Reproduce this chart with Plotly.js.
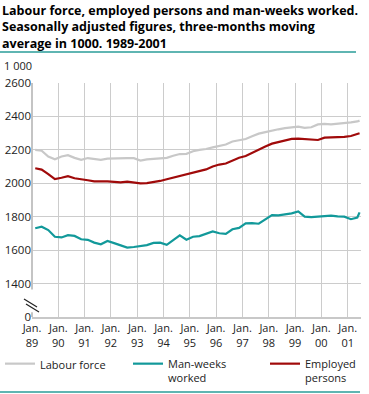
<!DOCTYPE html>
<html>
<head>
<meta charset="utf-8">
<script src="https://cdn.plot.ly/plotly-3.0.1.min.js"></script>
<style>html,body{margin:0;padding:0;background:#fff;}#chart{width:369px;height:394px;}</style>
</head>
<body>
<div id="chart"></div>
<script>
// Dates (mid-month, roughly quarterly)
var dates = [
 '1989-02-15','1989-05-15','1989-08-15','1989-11-15',
 '1990-02-15','1990-05-15','1990-08-15','1990-11-15',
 '1991-02-15','1991-05-15','1991-08-15','1991-11-15',
 '1992-02-15','1992-05-15','1992-08-15','1992-11-15',
 '1993-02-15','1993-05-15','1993-08-15','1993-11-15',
 '1994-02-15','1994-05-15','1994-08-15','1994-11-15',
 '1995-02-15','1995-05-15','1995-08-15','1995-11-15',
 '1996-02-15','1996-05-15','1996-08-15','1996-11-15',
 '1997-02-15','1997-05-15','1997-08-15','1997-11-15',
 '1998-02-15','1998-05-15','1998-08-15','1998-11-15',
 '1999-02-15','1999-05-15','1999-08-15','1999-11-15',
 '2000-02-15','2000-05-15','2000-08-15','2000-11-15',
 '2001-02-15','2001-05-15','2001-06-15'
];
var labourForce = [
 2200,2195,2160,2143, 2160,2168,2152,2140, 2151,2145,2140,2147,
 2149,2148,2151,2150, 2136,2143,2146,2150, 2152,2165,2175,2176,
 2192,2200,2205,2215, 2222,2232,2250,2258, 2265,2282,2297,2306,
 2316,2323,2330,2335, 2339,2332,2335,2352, 2355,2353,2356,2360,
 2364,2370,2375
];
var employedPersons = [
 2090,2082,2055,2025, 2033,2043,2030,2022, 2018,2012,2013,2012,
 2009,2006,2010,2006, 2000,2001,2006,2014, 2024,2034,2046,2057,
 2065,2073,2083,2100, 2112,2118,2138,2153, 2163,2183,2202,2220,
 2237,2247,2256,2266, 2267,2263,2261,2259, 2273,2274,2275,2278,
 2283,2292,2299
];
var manWeeks = [
 1731,1740,1720,1680, 1676,1690,1685,1665, 1662,1645,1635,1655,
 1642,1628,1615,1619, 1624,1630,1643,1645, 1632,1658,1688,1662,
 1680,1684,1698,1712, 1701,1697,1725,1733, 1760,1762,1758,1785,
 1810,1808,1812,1820, 1832,1800,1798,1800, 1803,1806,1802,1800,
 1785,1795,1826
];
var xTickVals = ['1989-01-01','1990-01-01','1991-01-01','1992-01-01','1993-01-01','1994-01-01','1995-01-01',
 '1996-01-01','1997-01-01','1998-01-01','1999-01-01','2000-01-01','2001-01-01'];
var xTickText = ['Jan.<br>89','Jan.<br>90','Jan.<br>91','Jan.<br>92','Jan.<br>93','Jan.<br>94','Jan.<br>95',
 'Jan.<br>96','Jan.<br>97','Jan.<br>98','Jan.<br>99','Jan.<br>00','Jan.<br>01'];
var yTickVals = [1200,1400,1600,1800,2000,2200,2400,2600];
var yTickText = ['0','1400','1600','1800','2000','2200','2400','2600'];

var FONT = 'Open Sans, Noto Sans, sans-serif';
var traces = [
 {x: dates, y: labourForce, name: 'Labour force', type: 'scatter', mode: 'lines',
  line: {color: '#c8c8c8', width: 2.2}, legendwidth: 83},
 {x: dates, y: manWeeks, name: 'Man-weeks<br>worked', type: 'scatter', mode: 'lines',
  line: {color: '#12999a', width: 2.2}, legendwidth: 92},
 {x: dates, y: employedPersons, name: 'Employed<br>persons', type: 'scatter', mode: 'lines',
  line: {color: '#a00a0a', width: 2.2}}
];
var W = 329, H = 234, L = 32, T = 83;
function px(x){return (x-L)/W;}
function py(y){return (T+H-y)/H;}
var layout = {
 width: 369, height: 394,
 margin: {l: L, r: 8, t: T, b: 77, autoexpand: false},
 paper_bgcolor: '#fff', plot_bgcolor: '#fff',
 font: {family: FONT, size: 11, color: '#222'},
 xaxis: {type: 'date', range: ['1989-01-01','2001-07-05'], tickmode: 'array', tickvals: xTickVals, ticktext: xTickText,
  showgrid: true, gridcolor: '#cccccc', gridwidth: 1, ticks: '', showline: true, linecolor: '#c8c8c8', linewidth: 2,
  tickfont: {size: 11, color: '#222'}, zeroline: false, fixedrange: true, automargin: false},
 yaxis: {range: [1200, 2600], tickmode: 'array', tickvals: yTickVals, ticktext: yTickText,
  showgrid: true, gridcolor: '#cccccc', gridwidth: 1, ticks: '', showline: false, zeroline: false,
  tickfont: {size: 11.5, color: '#222'}, fixedrange: true, automargin: false},
 showlegend: true,
 legend: {orientation: 'h', x: px(0), xanchor: 'left', y: py(350), yanchor: 'top', valign: 'top',
  font: {family: FONT, size: 11, color: '#222'}, bgcolor: 'rgba(0,0,0,0)', traceorder: 'normal'},
 annotations: [
  {text: '<b>Labour force, employed persons and man-weeks worked.<br>Seasonally adjusted figures, three-months moving<br>average in 1000. 1989-2001</b>',
   xref: 'paper', yref: 'paper', x: px(0), y: py(0), xanchor: 'left', yanchor: 'top', align: 'left',
   showarrow: false, font: {family: FONT, size: 12.5, color: '#000'}},
  {text: '1 000', xref: 'paper', yref: 'paper', x: px(2), y: py(65), xanchor: 'left', yanchor: 'middle',
   showarrow: false, font: {family: FONT, size: 11, color: '#222'}}
 ],
 shapes: [
  {type: 'line', xref: 'paper', yref: 'paper', x0: px(0), x1: px(356), y0: py(52), y1: py(52), line: {color: '#2a9d98', width: 1.5}},
  {type: 'line', xref: 'paper', yref: 'paper', x0: px(0), x1: px(360), y0: py(392), y1: py(392), line: {color: '#2a9d98', width: 1.5}},
  {type: 'line', xref: 'paper', yref: 'y', x0: 0, x1: 0, y0: 1365, y1: 2600, line: {color: '#c4c4c4', width: 2}},
  {type: 'line', xref: 'paper', yref: 'y', x0: 0, x1: 0, y0: 1200, y1: 1228, line: {color: '#c4c4c4', width: 2}},
  {type: 'line', xref: 'paper', yref: 'paper', x0: px(24), y0: py(299), x1: px(37), y1: py(307), line: {color: '#222', width: 1.3}},
  {type: 'line', xref: 'paper', yref: 'paper', x0: px(26), y0: py(304), x1: px(39), y1: py(312), line: {color: '#222', width: 1.3}}
 ]
};
Plotly.newPlot('chart', traces, layout, {displayModeBar: false, staticPlot: true});
</script>
</body>
</html>
